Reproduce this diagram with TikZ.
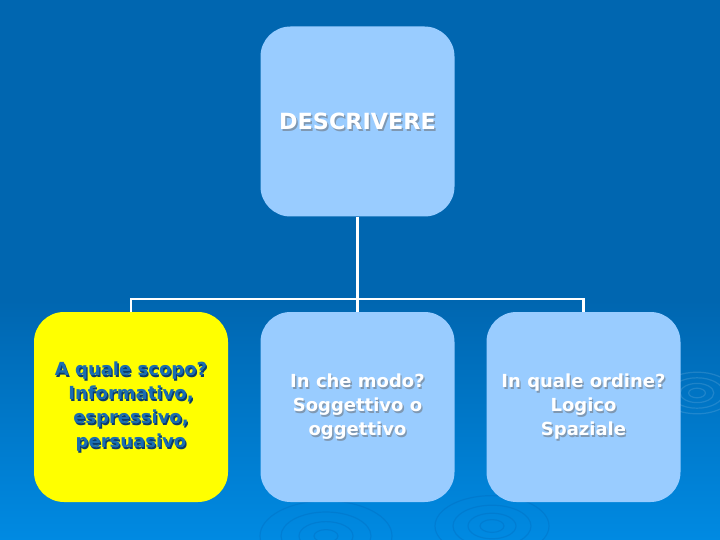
\documentclass[tikz,border=0pt]{standalone}
\usepackage{fontspec}
\setmainfont{DejaVu Sans}
\definecolor{bgtop}{HTML}{0066B0}
\definecolor{bgbot}{HTML}{008AE2}
\definecolor{boxblue}{HTML}{99CCFF}
\definecolor{boxyellow}{HTML}{FFFF00}
\definecolor{shadegray}{HTML}{7F98B2}
\definecolor{ytext}{HTML}{1A6DB2}
\definecolor{yshadow}{HTML}{0A3C6C}
\definecolor{ripple}{HTML}{0060B0}
\begin{document}
\begin{tikzpicture}[x=1pt,y=-1pt,
  card/.style={rectangle, rounded corners=30pt, minimum width=194pt, minimum height=190pt, inner sep=0pt},
  bluecard/.style={card, fill=boxblue},
  yellowcard/.style={card, fill=boxyellow},
  big/.style={font=\bfseries\fontsize{22.3}{24}\selectfont},
  small/.style={font=\bfseries\fontsize{18}{24}\selectfont, align=center},
  conn/.style={draw=white, line width=2.8pt},
  rip/.style={draw=ripple, line width=1.2pt, opacity=0.25}
]
\useasboundingbox (0,0) rectangle (720,540);
\fill[bgtop] (0,0) rectangle (720,301);
\shade[top color=bgtop, bottom color=bgbot] (0,300) rectangle (720,540);
% faint ripples
\foreach \r in {8,18,30,44}{
  \draw[rip] (326,536) ellipse ({\r*1.5} and {\r*0.8});
}
\foreach \r in {8,16,26,38}{
  \draw[rip] (492,526) ellipse ({\r*1.5} and {\r*0.8});
}
\foreach \r in {6,12,19,26}{
  \draw[rip, draw=white, opacity=0.12] (697,393) ellipse ({\r*1.4} and {\r*0.8});
}
% boxes
\node[bluecard,
  label={[big, text=shadegray, shift={(1.5pt,-1.5pt)}]center:DESCRIVERE},
  label={[big, text=white]center:DESCRIVERE}] (top) at (357.5,121.5) {};
\node[yellowcard,
  label={[small, text=yshadow, shift={(1.3pt,-1.3pt)}]center:A quale scopo?\\Informativo,\\espressivo,\\persuasivo},
  label={[small, text=ytext]center:A quale scopo?\\Informativo,\\espressivo,\\persuasivo}] (scopo) at (131,407) {};
\node[bluecard,
  label={[small, text=shadegray, shift={(1.3pt,-1.3pt)}]center:In che modo?\\Soggettivo o\\oggettivo},
  label={[small, text=white]center:In che modo?\\Soggettivo o\\oggettivo}] (modo) at (357.5,407) {};
\node[bluecard,
  label={[small, text=shadegray, shift={(1.3pt,-1.3pt)}]center:In quale ordine?\\Logico\\Spaziale},
  label={[small, text=white]center:In quale ordine?\\Logico\\Spaziale}] (ordine) at (583.5,407) {};
% connectors
\coordinate (hub) at (357.5,299);
\draw[conn] (top.south) -- (hub);
\draw[conn] (hub) -| (scopo.north);
\draw[conn] (hub) -- (modo.north);
\draw[conn] (hub) -| (ordine.north);
\end{tikzpicture}
\end{document}
